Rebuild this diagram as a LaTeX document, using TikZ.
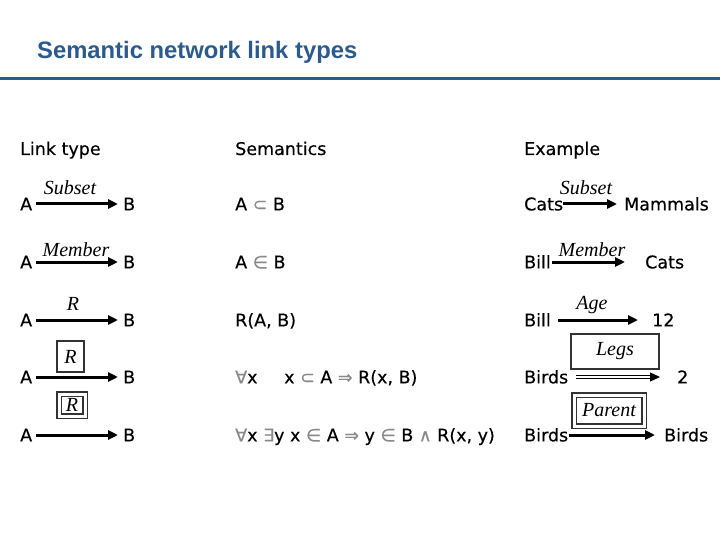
\documentclass[tikz,border=0pt]{standalone}
\usepackage{fontspec}
\usetikzlibrary{arrows.meta}
\setmainfont{DejaVu Sans}[FakeBold=0.4]
\newfontfamily\bodyfont{DejaVu Sans}[FakeBold=0.4]
\newfontfamily\titlefont{Liberation Sans}
\newfontfamily\labfont{Liberation Serif}
\definecolor{titleblue}{HTML}{2B5B8E}
\definecolor{symgray}{HTML}{8A8A8A}
\newcommand{\sym}[1]{\textcolor{symgray}{#1}}
\begin{document}
\begin{tikzpicture}[x=1pt,y=-1pt,
  txt/.style={font=\bodyfont\fontsize{17.5}{20}\selectfont, inner sep=0pt, text height=12.8pt, text depth=0pt, anchor=west},
  lab/.style={font=\labfont\itshape\fontsize{20}{22}\selectfont, inner sep=0pt, anchor=base},
  link/.style={line width=3pt, -{Triangle[length=10pt,width=9pt]}},
  dlink/.style={line width=1.1pt, double, double distance=1.6pt, -{Triangle[length=10pt,width=9pt]}},
  box/.style={draw=black!80, line width=2pt, inner sep=0pt, font=\labfont\itshape\fontsize{20}{22}\selectfont},
  dbox/.style={draw=black!80, double, double distance=3pt, line width=1.6pt, inner sep=0pt, font=\labfont\itshape\fontsize{20}{22}\selectfont}
]
\useasboundingbox (0,0) rectangle (720,540);
% title
\node[font=\titlefont\bfseries\fontsize{23.8}{26}\selectfont, text=titleblue, anchor=base west, inner sep=0pt] (title) at (37,59) {Semantic network link types};
\draw[titleblue, line width=3.3pt] (0,78.3) -- (720,78.3);
% headers
\node[txt] (h1) at (20,148.6) {Link type};
\node[txt] (h2) at (235,148.6) {Semantics};
\node[txt] (h3) at (524,148.6) {Example};
% ---------- Link type column ----------
\node[txt] (a1) at (20,204) {A};
\node[txt] (b1) at (123,204) {B};
\draw[link, shorten <=4pt, shorten >=5pt] (a1.east) -- (b1.west);
\node[lab] (l1) at (70,195) {Subset};
\node[txt] (a2) at (20,262) {A};
\node[txt] (b2) at (123,262) {B};
\draw[link, shorten <=4pt, shorten >=5pt] (a2.east) -- (b2.west);
\node[lab] (l2) at (76,256) {Member};
\node[txt] (a3) at (20,320) {A};
\node[txt] (b3) at (123,320) {B};
\draw[link, shorten <=4pt, shorten >=5pt] (a3.east) -- (b3.west);
\node[lab] (l3) at (73,310) {R};
\node[txt] (a4) at (20,377) {A};
\node[txt] (b4) at (123,377) {B};
\draw[link, shorten <=4pt, shorten >=5pt] (a4.east) -- (b4.west);
\node[box, minimum width=27pt, minimum height=31pt] (r4) at (70.5,356.5) {R};
\node[txt] (a5) at (20,435) {A};
\node[txt] (b5) at (123,435) {B};
\draw[link, shorten <=4pt, shorten >=5pt] (a5.east) -- (b5.west);
\node[dbox, minimum width=26pt, minimum height=22pt] (r5) at (72,405) {R};
% ---------- Semantics column ----------
\node[txt] (s1) at (235,204) {A \sym{⊂} B};
\node[txt] (s2) at (235,262) {A \sym{∈} B};
\node[txt] (s3) at (235,320) {R(A, B)};
\node[txt] (s4a) at (235,377) {\sym{∀}x};
\node[txt] (s4b) at (284,377) {x \sym{⊂} A \sym{⇒} R(x, B)};
\node[txt] (s5) at (235,435) {\sym{∀}x \sym{∃}y x \sym{∈} A \sym{⇒} y \sym{∈} B \sym{∧} R(x, y)};
% ---------- Example column ----------
\node[txt] (e1a) at (524,204) {Cats};
\node[txt] (e1b) at (624,204) {Mammals};
\draw[link, shorten <=0pt, shorten >=7pt] (e1a.east) -- (e1b.west);
\node[lab] (el1) at (586,195) {Subset};
\node[txt] (e2a) at (524,262) {Bill};
\node[txt] (e2b) at (645,262) {Cats};
\draw[link, shorten <=1.5pt, shorten >=20pt] (e2a.east) -- (e2b.west);
\node[lab] (el2) at (592,256) {Member};
\node[txt] (e3a) at (524,320) {Bill};
\node[txt] (e3b) at (652,320) {12};
\draw[link, shorten <=7.5pt, shorten >=14pt] (e3a.east) -- (e3b.west);
\node[lab] (el3) at (592,309) {Age};
\node[txt] (e4a) at (524,377) {Birds};
\node[txt] (e4b) at (677,377) {2};
\draw[dlink, shorten <=8pt, shorten >=17pt] (e4a.east) -- (e4b.west);
\node[box, minimum width=88pt, minimum height=35pt] (el4) at (615,351.5) {Legs};
\node[txt] (e5a) at (524,435) {Birds};
\node[txt] (e5b) at (664,435) {Birds};
\draw[link, shorten <=1pt, shorten >=9pt] (e5a.east) -- (e5b.west);
\node[dbox, minimum width=70pt, minimum height=31pt] (el5) at (609,410.5) {Parent};
\end{tikzpicture}
\end{document}
